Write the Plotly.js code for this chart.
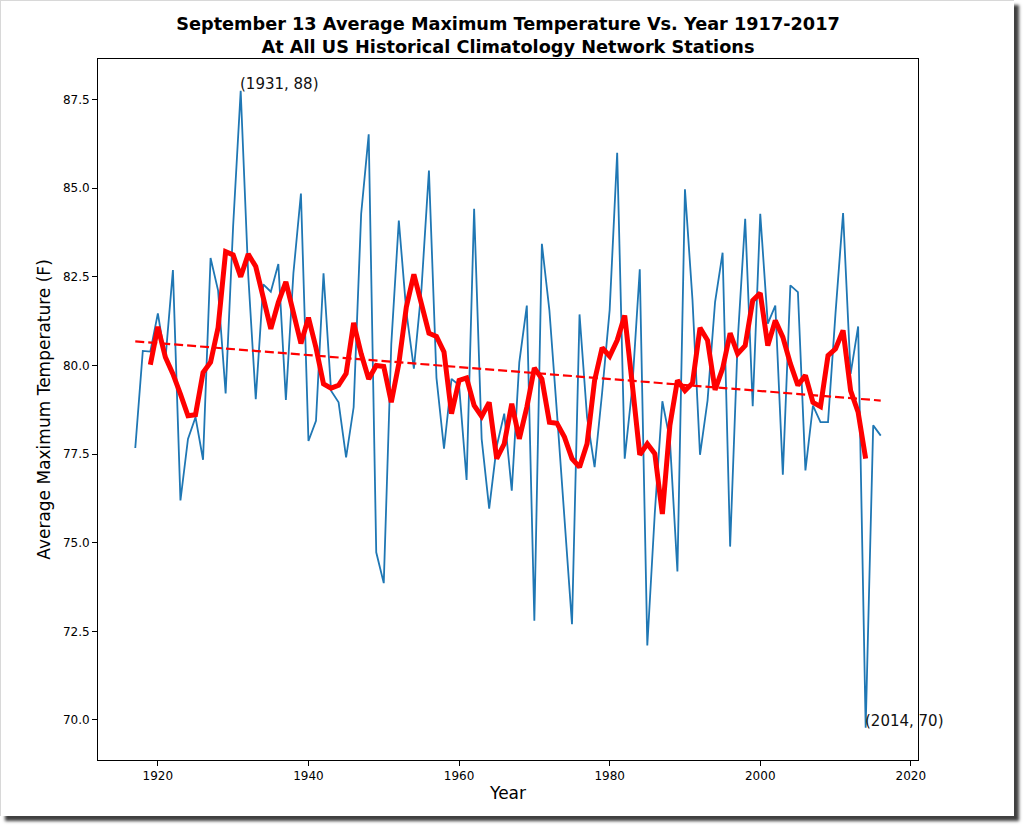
<!DOCTYPE html>
<html>
<head>
<meta charset="utf-8">
<script src="https://cdn.plot.ly/plotly-3.0.1.min.js"></script>
<style>
	body { margin: 0; background: #fff; }
	#chart {
		position: absolute; left: 0; top: 0;
		width: 1013px; height: 815px;
		border-left: 1px solid #d8d8d8; border-top: 1px solid #d8d8d8;
		box-shadow: 5px 5px 3px rgba(0, 0, 0, 0.75);
		background: #fff;
	}
</style>
</head>
<body>
<div id="chart"></div>
<script>
// values
const years = [
	1917, 1918, 1919, 1920, 1921, 1922, 1923, 1924, 1925, 1926,
	1927, 1928, 1929, 1930, 1931, 1932, 1933, 1934, 1935, 1936,
	1937, 1938, 1939, 1940, 1941, 1942, 1943, 1944, 1945, 1946,
	1947, 1948, 1949, 1950, 1951, 1952, 1953, 1954, 1955, 1956,
	1957, 1958, 1959, 1960, 1961, 1962, 1963, 1964, 1965, 1966,
	1967, 1968, 1969, 1970, 1971, 1972, 1973, 1974, 1975, 1976,
	1977, 1978, 1979, 1980, 1981, 1982, 1983, 1984, 1985, 1986,
	1987, 1988, 1989, 1990, 1991, 1992, 1993, 1994, 1995, 1996,
	1997, 1998, 1999, 2000, 2001, 2002, 2003, 2004, 2005, 2006,
	2007, 2008, 2009, 2010, 2011, 2012, 2013, 2014, 2015, 2016
]

const maxTemps = [
	77.67, 80.41, 80.39, 81.47, 80.16, 82.69, 76.19, 77.93, 78.54, 77.34,
	83.03, 82.11, 79.21, 83.95, 87.75, 82.55, 79.05, 82.29, 82.08, 82.86,
	79.03, 82.6, 84.85, 77.87, 78.44, 82.6, 79.29, 78.96, 77.41, 78.82,
	84.28, 86.52, 74.73, 73.86, 80.61, 84.09, 81.51, 79.91, 82.13, 85.5,
	79.65, 77.65, 79.62, 79.44, 76.77, 84.42, 77.93, 75.96, 77.72, 78.64,
	76.47, 80.09, 81.69, 72.8, 83.43, 81.55, 78.67, 75.59, 72.7, 81.44,
	78.54, 77.13, 79.23, 81.56, 86.0, 77.37, 79.37, 82.71, 72.1, 75.85,
	78.99, 77.9, 74.19, 84.97, 81.85, 77.48, 79.01, 81.79, 83.18, 74.89,
	80.68, 84.14, 78.85, 84.28, 81.18, 81.69, 76.92, 82.26, 82.07, 77.04,
	78.87, 78.4, 78.4, 81.49, 84.3, 79.76, 81.1, 69.78, 78.31, 78.02
]

// 5 year running mean, 1919-2014
const meanYears = years.slice(2, 98)
const meanTemps = [
	80.02, 81.09, 80.23, 79.76, 79.19, 78.58, 78.61, 79.80,
	80.09, 81.07, 83.21, 83.12, 82.5, 83.14, 82.79, 81.92, 81.03, 81.78,
	82.36, 81.49, 80.62, 81.35, 80.50, 79.48, 79.36, 79.44, 79.77, 81.20,
	80.33, 79.62, 80.0, 79.97, 78.96, 80.05, 81.65, 82.57, 81.74, 80.91,
	80.82, 80.38, 78.64, 79.58, 79.65, 78.87, 78.56, 78.96, 77.37, 77.79,
	78.92, 77.93, 78.82, 79.93, 79.62, 78.40, 78.37, 77.98, 77.37, 77.13,
	77.79, 79.58, 80.5, 80.26, 80.71, 81.41, 79.48, 77.48, 77.79, 77.51,
	75.81, 78.31, 79.58, 79.29, 79.50, 81.06, 80.71, 79.31, 79.91, 80.91,
	80.33, 80.56, 81.83, 82.04, 80.56, 81.27, 80.80, 80.05, 79.44, 79.72,
	78.96, 78.84, 80.28, 80.47, 80.99, 79.29, 78.68, 77.37
]

const trendYears = [1917, 2016]
const trendTemps = [80.68, 79.01]

const labelYears = [1931, 2014]
const labelTemps = [87.75, 69.78]
const labelTexts = ["(1931, 88)", "(2014, 70)"]

const FONT = "DejaVu Sans, Verdana, sans-serif"


const data = [
	{
		x: years, y: maxTemps,
		type: 'scatter', mode: 'lines',
		line: { color: '#1f77b4', width: 1.8 },
		hoverinfo: 'skip'
	},
	{
		x: meanYears, y: meanTemps,
		type: 'scatter', mode: 'lines',
		line: { color: '#ff0000', width: 5 },
		hoverinfo: 'skip'
	},
	{
		x: trendYears, y: trendTemps,
		type: 'scatter', mode: 'lines',
		line: { color: '#ff0000', width: 2.2, dash: '9px,4px' },
		hoverinfo: 'skip'
	}
]

const layout = {
	width: 1013,
	height: 815,
	margin: { l: 97, r: 96, t: 58, b: 56 },
	paper_bgcolor: '#fff',
	plot_bgcolor: '#fff',
	showlegend: false,
	font: { family: FONT, color: '#000', size: 12 },
	title: {
		text: '<b>September 13 Average Maximum Temperature Vs. Year 1917-2017<br>At All US Historical Climatology Network Stations</b>',
		font: { family: FONT, size: 17.7, color: '#000' },
		x: 0.5, xref: 'paper', xanchor: 'center',
		y: 0.964, yref: 'container', yanchor: 'top'
	},
	xaxis: {
		range: [1912.05, 2020.95],
		tick0: 1920, dtick: 20,
		ticks: 'outside', ticklen: 5, tickwidth: 1, tickcolor: '#000',
		showline: true, linecolor: '#000', linewidth: 1, mirror: true,
		showgrid: false, zeroline: false,
		tickfont: { family: FONT, size: 12, color: '#000' },
		title: { text: 'Year', font: { family: FONT, size: 17, color: '#000' }, standoff: 4 }
	},
	yaxis: {
		range: [68.87, 88.645],
		tick0: 70, dtick: 2.5, tickformat: '.1f',
		ticks: 'outside', ticklen: 5, tickwidth: 1, tickcolor: '#000',
		showline: true, linecolor: '#000', linewidth: 1, mirror: true,
		showgrid: false, zeroline: false,
		tickfont: { family: FONT, size: 12, color: '#000' },
		title: { text: 'Average Maximum Temperature (F)', font: { family: FONT, size: 17, color: '#000' }, standoff: 7 }
	},
	annotations: labelTexts.map((t, i) => ({
		x: labelYears[i], y: labelTemps[i],
		xref: 'x', yref: 'y',
		text: t, showarrow: false,
		xanchor: 'left', yanchor: 'bottom',
		xshift: -3, yshift: -4,
		font: { family: FONT, size: 15, color: '#111' }
	}))
}

Plotly.newPlot('chart', data, layout, { displayModeBar: false, staticPlot: true })
</script>
</body>
</html>
